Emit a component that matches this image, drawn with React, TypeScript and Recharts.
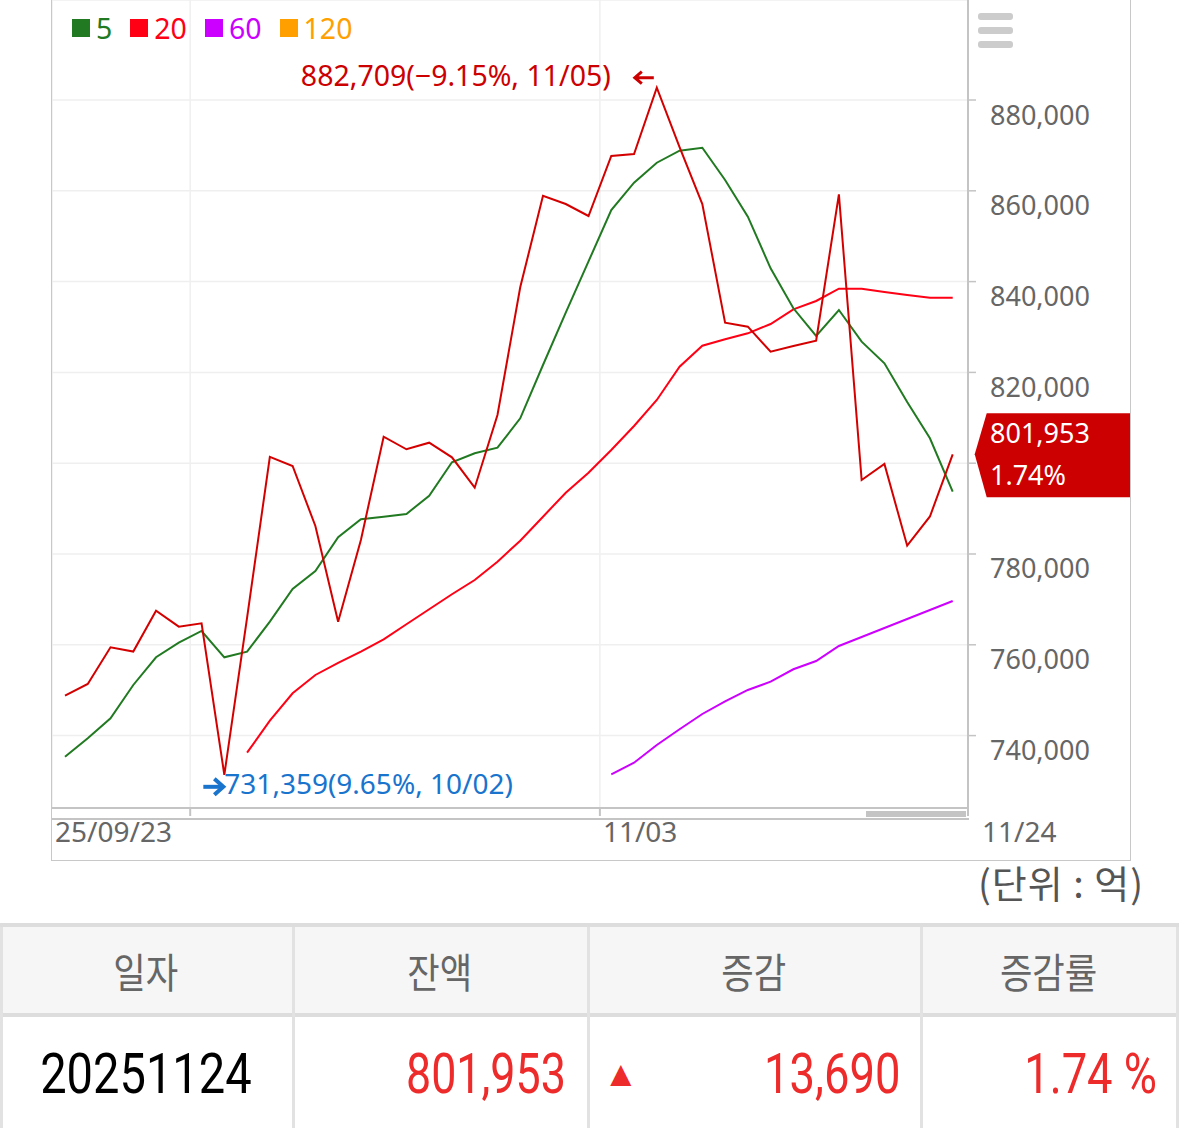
import React from "react";
import { LineChart, Line, XAxis, YAxis, CartesianGrid, Legend } from "recharts";

// trading days shown (2025-09-23 .. 2025-11-24)
const dates = [
  "09/23", "09/24", "09/25", "09/26", "09/29", "09/30", "10/01", "10/02",
  "10/10", "10/13", "10/14", "10/15", "10/16", "10/17", "10/20", "10/21",
  "10/22", "10/23", "10/24", "10/27", "10/28", "10/29", "10/30", "10/31",
  "11/03", "11/04", "11/05", "11/06", "11/07", "11/10", "11/11", "11/12",
  "11/13", "11/14", "11/17", "11/18", "11/19", "11/20", "11/21", "11/24",
];

// 잔액 (억)
const balance = [
  748791, 751368, 759451, 758500, 767513, 763989, 764723, 731359,
  766000, 801400, 799385, 786169, 765090, 783086, 805838, 803063,
  804517, 801301, 794605, 810618, 838745, 858921, 857093, 854450,
  867665, 868106, 882709, 869600, 857093, 830948, 830067, 824561,
  825800, 826983, 859229, 796301, 799825, 781830, 788263, 801953,
];

const ma5 = [
  735355, 739408, 743813, 751148, 757249, 760465, 763042, 757249,
  758500, 765090, 772293, 776258, 783680, 787645, 788218, 788812,
  792843, 800200, 802182, 803416, 809891, 821631, 833151, 844450,
  855771, 861785, 866190, 868833, 869494, 862379, 854296, 842930,
  834120, 828019, 833745, 826763, 822006, 813481, 805486, 793724,
];

const ma20 = [
  null, null, null, null, null, null, null, null,
  736236, 743285, 749320, 753350, 755994, 758480, 761214, 764518,
  767822, 771125, 774275, 778306, 782931, 788218, 793504, 797909,
  802909, 808195, 813922, 821257, 825882, 827292, 828613, 830662,
  833900, 835728, 838437, 838437, 837710, 837049, 836455, 836455,
];

const ma60 = [
  null, null, null, null, null, null, null, null,
  null, null, null, null, null, null, null, null,
  null, null, null, null, null, null, null, null,
  731479, 734034, 737932, 741390, 744760, 747514, 750047, 751875,
  754606, 756434, 759738, 761720, 763703, 765685, 767667, 769650,
];

const ma120: (number | null)[] = dates.map(() => null);

const legendOrder = ["5", "20", "60", "120"];
const yTicks = [740000, 760000, 780000, 800000, 820000, 840000, 860000, 880000];
const xTicks = [5.5, 23.5, 39.672];
const xTickLabels = ["25/09/23", "11/03", "11/24"];

const lastChange = 13690;
const lastRate = "1.74";
const maxInfo = "882,709(\u22129.15%, 11/05)";
const minInfo = "731,359(9.65%, 10/02)";

const data = dates.map((d, i) => ({
  idx: i,
  date: d,
  balance: balance[i],
  ma5: ma5[i],
  ma20: ma20[i],
  ma60: ma60[i],
  ma120: ma120[i],
}));

const FONT = "'Noto Sans', 'Noto Sans CJK KR', sans-serif";
const KFONT = "'Noto Sans CJK KR', 'Noto Sans', sans-serif";
const PLOT_LEFT = 52;
const fmt = (v: number) => v.toLocaleString("en-US");

const maxIdx = balance.indexOf(Math.max(...balance));
const minIdx = balance.indexOf(Math.min(...balance));
const lastIdx = balance.length - 1;

// the current-value badge covers the tick label next to it
const YTick = ({ x, y, payload }: any) => {
  if (Math.abs(payload.value - balance[lastIdx]) < 12000) return null;
  return (
    <text x={x} y={y + 14} dominantBaseline="central" textAnchor="start" fill="#666" fontSize={27} fontFamily={FONT}>
      {fmt(payload.value)}
    </text>
  );
};

const XTick = ({ x, y, index }: any) => {
  const tx = index === 0 ? PLOT_LEFT + 3 : index === 1 ? x + 3 : x + 14;
  return (
    <text x={tx} y={y + 13} dominantBaseline="central" textAnchor="start" fill="#666" fontSize={28} fontFamily={FONT}>
      {xTickLabels[index]}
    </text>
  );
};

const BalanceLabel = (props: any) => {
  const { x, y, index } = props;
  if (index === maxIdx) {
    return (
      <g>
        <text x={x - 46} y={y - 13} textAnchor="end" dominantBaseline="central" fill="#cc0000" fontSize={28.5} fontFamily={FONT}>
          {maxInfo}
        </text>
        <path d={`M${x - 3},${y - 10} L${x - 22},${y - 10} M${x - 15},${y - 16} L${x - 22},${y - 10} L${x - 15},${y - 4}`} stroke="#cc0000" strokeWidth={3} fill="none" />
      </g>
    );
  }
  if (index === minIdx) {
    return (
      <g>
        <path d={`M${x - 21},${y + 12} L${x - 3},${y + 12}`} stroke="#1874cd" strokeWidth={4} />
        <path d={`M${x - 10},${y + 4} L${x - 1},${y + 12} L${x - 10},${y + 20}`} stroke="#1874cd" strokeWidth={4} fill="none" />
        <text x={x} y={y + 8} textAnchor="start" dominantBaseline="central" fill="#1874cd" fontSize={28} fontFamily={FONT}>
          {minInfo}
        </text>
      </g>
    );
  }
  if (index === lastIdx) {
    const bx = x + 22;
    return (
      <g>
        <path d={`M${bx},${y} L${bx + 12},${y - 41} L1130,${y - 41} L1130,${y + 43} L${bx + 12},${y + 43} Z`} fill="#cc0000" />
        <text x={990} y={y - 22} dominantBaseline="central" fill="#fff" fontSize={27} fontFamily={FONT}>
          {fmt(balance[lastIdx])}
        </text>
        <text x={990} y={y + 20} dominantBaseline="central" fill="#fff" fontSize={27} fontFamily={FONT}>
          {lastRate}%
        </text>
      </g>
    );
  }
  return null;
};

const LegendContent = ({ payload }: any) => {
  const items = legendOrder
    .map((name) => (payload || []).find((p: any) => p.value === name))
    .filter(Boolean);
  return (
    <div style={{ display: "flex", alignItems: "center", fontFamily: FONT, fontSize: 28.5 }}>
      {items.map((p: any) => (
        <div key={p.value} style={{ display: "flex", alignItems: "center", marginRight: 18 }}>
          <span style={{ display: "inline-block", width: 18, height: 18, background: p.color, marginRight: 6 }} />
          <span style={{ color: p.color, lineHeight: "30px" }}>{p.value}</span>
        </div>
      ))}
    </div>
  );
};

const cell: React.CSSProperties = {
  position: "absolute",
  top: 0,
  bottom: 0,
  display: "flex",
  alignItems: "center",
  boxSizing: "border-box",
};

const squeeze = (txt: React.ReactNode, origin: string, sx = 0.84) => (
  <span style={{ display: "inline-block", transform: `scaleX(${sx})`, transformOrigin: origin, whiteSpace: "nowrap" }}>{txt}</span>
);

export default function App() {
  return (
    <div style={{ position: "absolute", left: 0, top: 0, width: 1179, height: 1128, background: "#fff", overflow: "hidden" }}>
      <div style={{ position: "absolute", left: 0, top: 0 }}>
        <LineChart width={1179} height={870} data={data} margin={{ top: 0, right: 49, left: PLOT_LEFT, bottom: 10 }}>
          <CartesianGrid stroke="#efefef" strokeWidth={1.5} horizontal vertical />
          <XAxis
            dataKey="idx"
            type="number"
            domain={[-0.571, 39.672]}
            allowDataOverflow
            ticks={xTicks}
            interval={0}
            height={52}
            axisLine={{ stroke: "#c4c4c4", strokeWidth: 2 }}
            tickLine={{ stroke: "#c4c4c4", strokeWidth: 2 }}
            tickSize={8}
            tick={<XTick />}
          />
          <YAxis
            orientation="right"
            type="number"
            domain={[724050, 902030]}
            allowDataOverflow
            ticks={yTicks}
            interval={0}
            width={162}
            axisLine={{ stroke: "#c4c4c4", strokeWidth: 2 }}
            tickLine={{ stroke: "#c4c4c4", strokeWidth: 1.5 }}
            tickSize={8}
            tickMargin={14}
            tick={<YTick />}
          />
          <Legend
            layout="horizontal"
            verticalAlign="middle"
            align="center"
            wrapperStyle={{ top: 13, left: 72, width: "auto", height: 34 }}
            content={<LegendContent />}
          />
          <Line dataKey="ma60" name="60" stroke="#cc00ff" strokeWidth={2} dot={false} isAnimationActive={false} />
          <Line dataKey="ma120" name="120" stroke="#ffa000" strokeWidth={2} dot={false} isAnimationActive={false} />
          <Line dataKey="ma20" name="20" stroke="#ff0015" strokeWidth={2} dot={false} isAnimationActive={false} />
          <Line dataKey="ma5" name="5" stroke="#217a21" strokeWidth={2} dot={false} isAnimationActive={false} />
          <Line
            dataKey="balance"
            name="잔액"
            legendType="none"
            stroke="#d40000"
            strokeWidth={2}
            dot={false}
            label={<BalanceLabel />}
            isAnimationActive={false}
          />
        </LineChart>
      </div>

      {/* outer frame, scroll bar, menu icon */}
      <div style={{ position: "absolute", left: 51, top: 0, width: 1080, height: 861, borderLeft: "1.5px solid #c8c8c8", borderRight: "1.5px solid #c8c8c8", borderBottom: "1.5px solid #c8c8c8", boxSizing: "border-box" }} />
      <div style={{ position: "absolute", left: 52, top: 818, width: 917, height: 2, background: "#c4c4c4" }} />
      <div style={{ position: "absolute", left: 866, top: 811, width: 100, height: 6, background: "#c4c4c4" }} />
      {[13, 27, 41].map((t) => (
        <div key={t} style={{ position: "absolute", left: 978, top: t, width: 35, height: 7, borderRadius: 3, background: "#cccccc" }} />
      ))}

      <div style={{ position: "absolute", left: 978, top: 858, fontFamily: KFONT, fontSize: 38, letterSpacing: 1, color: "#555", lineHeight: "48px", whiteSpace: "nowrap" }}>(단위 : 억)</div>

      {/* summary table */}
      <div style={{ position: "absolute", left: 0, top: 923, width: 1179, height: 205, borderTop: "4px solid #dddddd", boxSizing: "border-box", fontFamily: KFONT }}>
        <div style={{ position: "absolute", left: 0, top: 0, width: 1179, height: 90, background: "#f6f6f6", borderBottom: "4px solid #dddddd", boxSizing: "border-box" }} />
        {[0, 292, 587, 920, 1176].map((x) => (
          <div key={x} style={{ position: "absolute", left: x, top: 0, width: 3, height: 205, background: "#e2e2e2" }} />
        ))}
        <div style={{ position: "absolute", left: 0, top: 0, width: 1179, height: 86 }}>
          {[["일자", 0, 292], ["잔액", 292, 587], ["증감", 587, 920], ["증감률", 920, 1177]].map(([t, l, r]) => (
            <div key={t as string} style={{ ...cell, left: l as number, width: (r as number) - (l as number), justifyContent: "center", fontSize: 41, color: "#666" }}>
              {squeeze(t as string, "center", 0.86)}
            </div>
          ))}
        </div>
        <div style={{ position: "absolute", left: 0, top: 92, width: 1179, height: 110, fontFamily: "Roboto, sans-serif", fontSize: 56 }}>
          <div style={{ ...cell, left: 0, width: 292, justifyContent: "center", color: "#000" }}>{squeeze("20251124", "center")}</div>
          <div style={{ ...cell, left: 292, width: 295, justifyContent: "flex-end", paddingRight: 21, color: "#ee2b2b" }}>{squeeze(fmt(balance[lastIdx]), "right", 0.8)}</div>
          <div style={{ ...cell, left: 603, width: 40, color: "#ee2b2b", fontSize: 36 }}>▲</div>
          <div style={{ ...cell, left: 587, width: 333, justifyContent: "flex-end", paddingRight: 20, color: "#ee2b2b" }}>{squeeze(fmt(lastChange), "right", 0.81)}</div>
          <div style={{ ...cell, left: 920, width: 257, justifyContent: "flex-end", paddingRight: 20, color: "#ee2b2b" }}>{squeeze(`${lastRate} %`, "right", 0.81)}</div>
        </div>
      </div>
    </div>
  );
}
